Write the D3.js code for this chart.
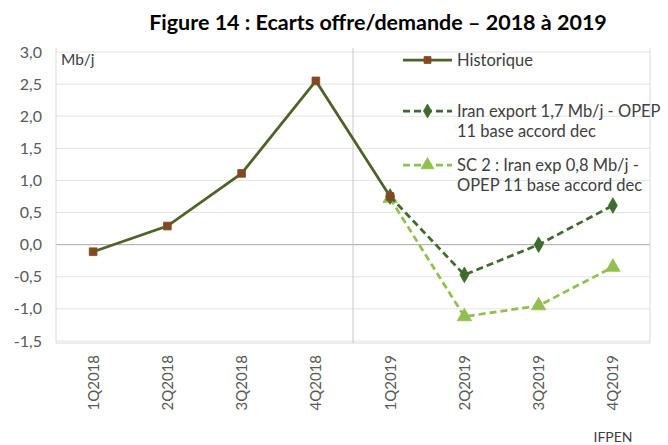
<!DOCTYPE html>
<html><head><meta charset="utf-8">
<script src="https://cdn.jsdelivr.net/npm/d3@7"></script>
<style>body{margin:0;background:#fff;}svg{display:block;font-family:Lato,"Open Sans",sans-serif;}</style>
</head><body><svg id="c" width="668" height="445"></svg>
<script>
const categories = ["1Q2018","2Q2018","3Q2018","4Q2018","1Q2019","2Q2019","3Q2019","4Q2019"];
const historique = [-0.11, 0.29, 1.11, 2.55, 0.75, null, null, null];
const iranExport = [null, null, null, null, 0.75, -0.47, 0.0, 0.61];
const sc2 = [null, null, null, null, 0.72, -1.12, -0.95, -0.35];
const yTicks = [-1.5,-1.0,-0.5,0,0.5,1.0,1.5,2.0,2.5,3.0];
const legendLabels = [["Historique"],["Iran export 1,7 Mb/j - OPEP","11 base accord dec"],["SC 2 : Iran exp 0,8 Mb/j -","OPEP 11 base accord dec"]];

const svg = d3.select("#c");
const L=56, R=650, T=52, B=341;
const x = d3.scaleBand().domain(categories).range([L,R]);
const y = d3.scaleLinear().domain([-1.5,3.0]).range([B,T]);
const fmt = v => d3.format(".1f")(v).replace(".",",").replace("−","-");

svg.append("text").attr("x",378).attr("y",30).attr("text-anchor","middle")
  .attr("font-size",21.5).attr("font-weight","bold").attr("fill","#000")
  .text("Figure 14 : Ecarts offre/demande – 2018 à 2019");

// grid
svg.append("g").selectAll("line").data(yTicks).join("line")
  .attr("x1",L).attr("x2",R).attr("y1",d=>y(d)).attr("y2",d=>y(d))
  .attr("stroke",d=>d===0?"#a6a6a6":"#e3e3e3").attr("stroke-width",1);
// borders
svg.append("line").attr("x1",L).attr("x2",L).attr("y1",T-4).attr("y2",B+2).attr("stroke","#d9d9d9");
svg.append("line").attr("x1",R).attr("x2",R).attr("y1",T-4).attr("y2",B+2).attr("stroke","#d9d9d9");
svg.append("line").attr("x1",L).attr("x2",R).attr("y1",B+2).attr("y2",B+2).attr("stroke","#d9d9d9");
// separator
const sepX = x("1Q2019");
svg.append("line").attr("x1",sepX).attr("x2",sepX).attr("y1",T-4).attr("y2",B+2).attr("stroke","#c8c8c8");

// y labels
svg.append("g").selectAll("text").data(yTicks).join("text")
  .attr("x",42).attr("y",d=>y(d)+5.5).attr("text-anchor","end")
  .attr("font-size",16).attr("fill","#595959").text(d=>fmt(d));
svg.append("text").attr("x",61).attr("y",65).attr("font-size",15.5).attr("fill","#404040").text("Mb/j");

// x labels
svg.append("g").selectAll("text").data(categories).join("text")
  .attr("transform",d=>`translate(${x(d)+x.bandwidth()/2+5.5},${355}) rotate(-90)`)
  .attr("text-anchor","end").attr("font-size",15).attr("fill","#595959").text(d=>d);

svg.append("text").attr("x",613).attr("y",442).attr("text-anchor","middle")
  .attr("font-size",14).attr("fill","#404040").text("IFPEN");

const cx = d => x(d)+x.bandwidth()/2;
const line = d3.line().defined(d=>d.v!=null).x(d=>cx(d.c)).y(d=>y(d.v));
function pts(arr){return categories.map((c,i)=>({c,v:arr[i]}));}

const series = [
  {data:historique, color:"#4f6228", dash:null, marker:"square", mfill:"#7f4a22", mstroke:"#8b4a2b"},
  {data:iranExport, color:"#3f6b2f", dash:"7,4", marker:"diamond", mfill:"#3f6b2f", mstroke:"#3f6b2f"},
  {data:sc2, color:"#92c050", dash:"7,4", marker:"triangle", mfill:"#92c050", mstroke:"#92c050"}
];
const sym = {square:d3.symbolSquare, diamond:d3.symbolDiamond, triangle:d3.symbolTriangle};
const size = {square:60, diamond:70, triangle:90};

[2,1,0].forEach(i=>{
  const s = series[i];
  const p = pts(s.data);
  svg.append("path").datum(p).attr("d",line).attr("fill","none")
    .attr("stroke",s.color).attr("stroke-width",2.75).attr("stroke-dasharray",s.dash);
  svg.append("g").selectAll("path").data(p.filter(d=>d.v!=null)).join("path")
    .attr("transform",d=>`translate(${cx(d.c)},${y(d.v)})`)
    .attr("d",d3.symbol(sym[s.marker],size[s.marker])())
    .attr("fill",s.mfill).attr("stroke",s.mstroke).attr("stroke-width",0.8);
});

// legend
const lx1=403, lx2=452, ly=[60,111,165];
series.forEach((s,i)=>{
  svg.append("line").attr("x1",lx1).attr("x2",lx2).attr("y1",ly[i]).attr("y2",ly[i])
    .attr("stroke",s.color).attr("stroke-width",2.75).attr("stroke-dasharray",s.dash);
  svg.append("path").attr("transform",`translate(${(lx1+lx2)/2},${ly[i]})`)
    .attr("d",d3.symbol(sym[s.marker],size[s.marker]*0.8)())
    .attr("fill",s.mfill).attr("stroke",s.mstroke).attr("stroke-width",0.8);
  legendLabels[i].forEach((t,j)=>{
    svg.append("text").attr("x",457).attr("y",ly[i]+5.5+j*20).attr("font-size",16.5)
      .attr("fill","#404040").text(t);
  });
});
</script></body></html>
